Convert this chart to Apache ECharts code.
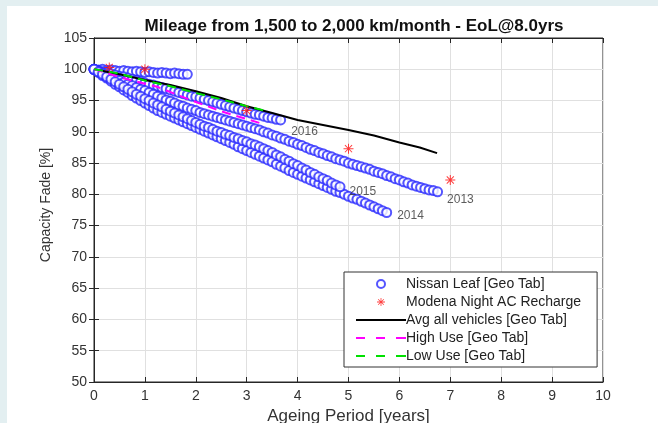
<!DOCTYPE html>
<html><head><meta charset="utf-8">
<script src="https://cdn.jsdelivr.net/npm/echarts@6/dist/echarts.min.js"></script>
<style>
html,body{margin:0;padding:0;background:#e3eff1;width:658px;height:423px;overflow:hidden}
#bg{position:absolute;left:7px;top:6px;width:651px;height:417px;background:#fff}
#c{position:absolute;left:0;top:0;width:658px;height:423px}
</style></head><body>
<div id="bg"></div><div id="c"></div>
<script>
// Monthly capacity values (x = month / 12 years) for each Nissan Leaf vehicle
const flatLeaf = [100.0,99.9,100.0,99.8,99.9,99.8,99.7,99.8,99.7,99.6,99.7,99.6,99.5,99.6,99.5,99.4,99.5,99.4,99.3,99.4,99.3,99.2,99.2];
const leaf2016 = [100.0,99.8,99.6,99.5,99.3,99.1,98.9,98.8,98.6,98.4,98.2,98.0,97.8,97.6,97.5,97.3,97.1,96.9,96.7,96.5,96.3,96.1,95.9,95.7,95.6,95.4,95.2,95.0,94.8,94.6,94.4,94.2,94.0,93.8,93.6,93.4,93.2,93.0,92.8,92.7,92.5,92.3,92.2,92.0,91.9];
const leaf2013 = [100.0,99.7,99.4,99.1,98.8,98.5,98.2,97.9,97.6,97.4,97.1,96.8,96.6,96.3,96.0,95.7,95.4,95.1,94.9,94.6,94.3,94.1,93.8,93.6,93.4,93.1,92.9,92.7,92.5,92.3,92.1,91.9,91.7,91.5,91.3,91.1,90.9,90.7,90.5,90.3,90.0,89.8,89.5,89.3,89.0,88.8,88.5,88.3,88.0,87.8,87.5,87.2,87.0,86.7,86.5,86.2,86.0,85.7,85.5,85.3,85.0,84.8,84.6,84.4,84.2,84.0,83.7,83.5,83.3,83.0,82.8,82.5,82.3,82.0,81.8,81.5,81.3,81.1,80.9,80.7,80.6,80.4];
const leaf2014 = [100.0,99.5,99.0,98.6,98.1,97.6,97.2,96.7,96.3,95.8,95.4,95.0,94.6,94.2,93.8,93.4,93.1,92.8,92.5,92.2,91.9,91.6,91.3,91.0,90.7,90.4,90.1,89.8,89.5,89.2,88.9,88.6,88.3,88.0,87.6,87.3,87.0,86.7,86.4,86.1,85.8,85.5,85.2,84.8,84.5,84.2,83.8,83.5,83.2,82.9,82.6,82.3,82.0,81.7,81.4,81.1,80.8,80.5,80.3,80.0,79.7,79.4,79.2,78.9,78.6,78.3,78.0,77.7,77.4,77.1];
const leaf2015 = [100.0,99.6,99.2,98.8,98.4,98.0,97.6,97.2,96.8,96.4,96.0,95.7,95.3,95.0,94.6,94.3,94.0,93.6,93.3,93.0,92.7,92.4,92.1,91.8,91.5,91.2,90.9,90.7,90.4,90.1,89.9,89.6,89.4,89.1,88.9,88.6,88.4,88.1,87.9,87.6,87.3,87.0,86.7,86.3,86.0,85.6,85.3,84.9,84.6,84.2,83.9,83.5,83.2,82.8,82.5,82.2,81.8,81.5,81.2];
const yearLabels = ['', '2016', '2013', '2014', '2015'];

const modenaX = [0.3, 1, 3, 5, 7];
const modenaY = [100.3, 100.0, 93.4, 87.3, 82.3];

const avgX = [0,0.5,1,1.5,2,2.5,3,3.5,4,4.5,5,5.5,6,6.4,6.74];
const avgY = [100,99.2,98.3,97.5,96.5,95.4,94.1,93.0,91.9,91.1,90.3,89.4,88.3,87.5,86.6];

const highX = [0,0.57,1.24,1.89,2.53,3.26];
const highY = [100,98.6,97.2,95.1,93.2,91.4];

const lowX = [0,0.5,1,1.5,2,2.5,3,3.4];
const lowY = [100,99.3,98.2,97.3,96.2,95.2,94.1,93.3];

const xTicks = [0,1,2,3,4,5,6,7,8,9,10];
const yTicks = [50,55,60,65,70,75,80,85,90,95,100,105];

// build data
const labelOffsets = {'2016':[0,12],'2013':[-1,8],'2014':[0,3],'2015':[-1,5]};
const leafSets = [flatLeaf, leaf2016, leaf2013, leaf2014, leaf2015];
const leafData = [];
leafSets.forEach((arr, k) => {
  arr.forEach((v, i) => {
    const item = {value: [i / 12, v]};
    if (i === arr.length - 1 && yearLabels[k]) {
      item.label = {show: true, formatter: yearLabels[k], position: 'right',
        offset: labelOffsets[yearLabels[k]], color: '#333', fontSize: 12, fontFamily: 'Liberation Sans, Arial'};
    }
    leafData.push(item);
  });
});
const zip = (a, b) => a.map((x, i) => [x, b[i]]);

const asterisk = 'path://M9,0h2v20h-2z M0,9h20v2h-20z M2.2,3.6l1.4-1.4l14.2,14.2l-1.4,1.4z M16.4,2.2l1.4,1.4l-14.2,14.2l-1.4-1.4z';
const solidIcon = 'path://M0,0h50v2h-50z';
const dashIcon = 'path://M0,0h9v2h-9z M20,0h9v2h-9z M40,0h10v2h-10z';
const font = 'Liberation Sans, Arial, sans-serif';
const axisColor = '#262626';

const chart = echarts.init(document.getElementById('c'), null, {renderer: 'canvas'});
chart.setOption({
  animation: false,
  backgroundColor: 'transparent',
  textStyle: {fontFamily: font},
  title: {text: 'Mileage from 1,500 to 2,000 km/month - EoL@8.0yrs', left: 349, textAlign: 'center', top: 13,
    textStyle: {fontSize: 17, fontWeight: 'bold', color: '#111', fontFamily: font}},
  grid: {left: 94, right: 55, top: 38, bottom: 41, show: true, borderColor: axisColor, borderWidth: 1,
    backgroundColor: '#fff', containLabel: false, outerBoundsMode: 'none'},
  legend: {
    orient: 'vertical', left: 344, top: 272,
    padding: [5, 16, 4, 12], itemGap: 4, itemWidth: 50, itemHeight: 8,
    backgroundColor: '#fff', borderColor: '#333', borderWidth: 1,
    textStyle: {fontSize: 14, color: '#222', fontFamily: font, padding: [0,0,0,-5]},
    data: [
      {name: 'Nissan Leaf [Geo Tab]'},
      {name: 'Modena Night AC Recharge'},
      {name: 'Avg all vehicles [Geo Tab]', icon: solidIcon},
      {name: 'High Use [Geo Tab]', icon: dashIcon},
      {name: 'Low Use [Geo Tab]', icon: dashIcon}
    ]
  },
  xAxis: [{
    type: 'value', min: 0, max: 10, interval: 1,
    name: 'Ageing Period [years]', nameLocation: 'middle', nameGap: 23,
    nameTextStyle: {fontSize: 17, color: '#333', fontFamily: font},
    axisLine: {show: true, lineStyle: {color: axisColor}},
    axisTick: {show: true, inside: true, length: 5, lineStyle: {color: axisColor}},
    axisLabel: {fontSize: 14, color: '#333', margin: 7, fontFamily: font, formatter: v => xTicks.includes(v) ? String(v) : ''},
    splitLine: {show: true, lineStyle: {color: '#e0e0e0'}}
  }, {
    type: 'value', min: 0, max: 10, interval: 1, position: 'top',
    axisLine: {show: true, lineStyle: {color: axisColor}},
    axisTick: {show: true, inside: true, length: 5, lineStyle: {color: axisColor}},
    axisLabel: {show: false}, splitLine: {show: false}
  }],
  yAxis: [{
    type: 'value', min: 50, max: 105, interval: 5,
    name: 'Capacity Fade [%]', nameLocation: 'middle', nameGap: 32,
    nameTextStyle: {fontSize: 14, color: '#333', fontFamily: font, padding: [0,0,0,10]},
    axisLine: {show: true, lineStyle: {color: axisColor}},
    axisTick: {show: true, inside: true, length: 5, lineStyle: {color: axisColor}},
    axisLabel: {fontSize: 14, color: '#333', margin: 7, fontFamily: font, formatter: v => yTicks.includes(v) ? String(v) : ''},
    splitLine: {show: true, lineStyle: {color: '#e0e0e0'}}
  }, {
    type: 'value', min: 50, max: 105, interval: 5, position: 'right',
    axisLine: {show: true, lineStyle: {color: axisColor}},
    axisTick: {show: true, inside: true, length: 5, lineStyle: {color: axisColor}},
    axisLabel: {show: false}, splitLine: {show: false}
  }],
  series: [
    {name: 'Nissan Leaf [Geo Tab]', type: 'scatter', symbol: 'emptyCircle', symbolSize: 9,
      itemStyle: {color: '#2a2aff', borderColor: '#2a2aff', borderWidth: 1}, data: leafData, z: 2},
    {name: 'Avg all vehicles [Geo Tab]', type: 'line', symbol: 'none', data: zip(avgX, avgY),
      lineStyle: {color: '#000', width: 2}, itemStyle: {color: '#000'}, z: 3},
    {name: 'High Use [Geo Tab]', type: 'line', symbol: 'none', data: zip(highX, highY),
      lineStyle: {color: '#ff00ff', width: 2, type: [9, 6]}, itemStyle: {color: '#ff00ff'}, z: 4},
    {name: 'Low Use [Geo Tab]', type: 'line', symbol: 'none', data: zip(lowX, lowY),
      lineStyle: {color: '#00e000', width: 2, type: [9, 6]}, itemStyle: {color: '#00e000'}, z: 4},
    {name: 'Modena Night AC Recharge', type: 'scatter', symbol: asterisk, symbolSize: 10,
      itemStyle: {color: '#ff1010'}, data: zip(modenaX, modenaY), z: 5}
  ]
});
</script>
</body></html>
